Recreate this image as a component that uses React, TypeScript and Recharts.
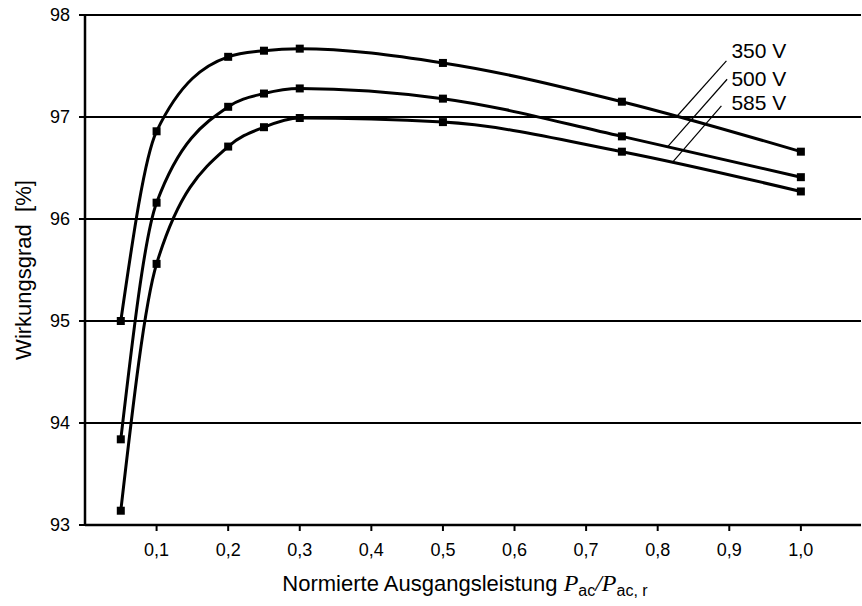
import {
  LineChart,
  Line,
  XAxis,
  YAxis,
  CartesianGrid,
  ReferenceLine,
  ReferenceDot,
} from "recharts";

// normierte Ausgangsleistung P_ac / P_ac,r
const loads = [0.05, 0.1, 0.2, 0.25, 0.3, 0.5, 0.75, 1.0];

// Wirkungsgrad in % je Eingangsspannung
const eta350 = [95.0, 96.86, 97.59, 97.65, 97.67, 97.53, 97.15, 96.66];
const eta500 = [93.84, 96.16, 97.1, 97.23, 97.28, 97.18, 96.81, 96.41];
const eta585 = [93.14, 95.56, 96.71, 96.9, 96.99, 96.95, 96.66, 96.27];

const seriesNames = ["350 V", "500 V", "585 V"];
const xTicks = [0.1, 0.2, 0.3, 0.4, 0.5, 0.6, 0.7, 0.8, 0.9, 1.0];
const yTicks = [93, 94, 95, 96, 97, 98];

// label anchors + leader lines (data coords)
const labelX = 0.903;
const labelY = [97.65, 97.38, 97.14];
const leaderFrom = [
  [0.896, 97.55],
  [0.897, 97.37],
  [0.889, 97.11],
];
const leaderTo = [
  [0.826, 97.0],
  [0.814, 96.71],
  [0.82, 96.55],
];

const data = loads.map((x, i) => ({
  x,
  v350: eta350[i],
  v500: eta500[i],
  v585: eta585[i],
}));

const FONT = "Arial, 'Liberation Sans', sans-serif";
const SERIF = "'Times New Roman', 'Liberation Serif', serif";

const Square = (props: any) => {
  const { cx, cy, index } = props;
  if (cx == null || cy == null) return null;
  return <rect key={index} x={cx - 4} y={cy - 4} width={8} height={8} fill="#000" />;
};

const XTitle = (props: any) => {
  const { x, y, width } = props.viewBox;
  return (
    <text x={x + width / 2 - 8} y={y + 66} textAnchor="middle" fontSize={22} fontFamily={FONT} fill="#000">
      Normierte Ausgangsleistung{" "}
      <tspan fontFamily={SERIF} fontStyle="italic" fontSize={24}>P</tspan>
      <tspan fontSize={16} dy={5}>ac</tspan>
      <tspan fontFamily={SERIF} fontStyle="italic" fontSize={24} dy={-5}>/P</tspan>
      <tspan fontSize={16} dy={5}>ac, r</tspan>
    </text>
  );
};

const YTitle = (props: any) => {
  const { x, y, height } = props.viewBox;
  const cx = x + 23;
  const cy = y + height / 2;
  return (
    <text
      x={cx}
      y={cy}
      transform={`rotate(-90 ${cx} ${cy})`}
      textAnchor="middle"
      dominantBaseline="central"
      fontSize={22}
      fontFamily={FONT}
      fill="#000"
    >
      Wirkungsgrad{"\u00a0 "}[%]
    </text>
  );
};

export default function App() {
  const keys = ["v350", "v500", "v585"];
  return (
    <div style={{ position: "absolute", left: 0, top: 0, width: 862, height: 606, background: "#fff" }}>
      <LineChart
        width={862}
        height={606}
        data={data}
        margin={{ top: 15, right: 1, bottom: 0, left: 0 }}
        style={{ fontFamily: FONT }}
      >
        <CartesianGrid vertical={false} stroke="#000" strokeWidth={2} />
        <XAxis
          type="number"
          dataKey="x"
          domain={[0, 1.084]}
          ticks={xTicks}
          tickFormatter={(v) => v.toFixed(1).replace(".", ",")}
          height={81}
          tickSize={6}
          tickMargin={12}
          axisLine={{ stroke: "#000", strokeWidth: 2.5 }}
          tickLine={{ stroke: "#000", strokeWidth: 2 }}
          tick={{ fill: "#000", fontSize: 18 }}
          label={<XTitle />}
        />
        <YAxis
          type="number"
          domain={[93, 98]}
          ticks={yTicks}
          width={85}
          tickSize={6}
          tickMargin={9}
          axisLine={{ stroke: "#000", strokeWidth: 2.5 }}
          tickLine={{ stroke: "#000", strokeWidth: 2 }}
          tick={{ fill: "#000", fontSize: 18 }}
          label={<YTitle />}
        />
        {keys.map((k, i) => (
          <Line
            key={k}
            type="monotone"
            dataKey={k}
            name={seriesNames[i]}
            stroke="#000"
            strokeWidth={3}
            dot={<Square />}
            activeDot={false}
            isAnimationActive={false}
          />
        ))}
        {seriesNames.map((name, i) => (
          <ReferenceLine
            key={"l" + name}
            segment={[
              { x: leaderFrom[i][0], y: leaderFrom[i][1] },
              { x: leaderTo[i][0], y: leaderTo[i][1] },
            ]}
            stroke="#000"
            strokeWidth={1.2}
            ifOverflow="visible"
          />
        ))}
        {seriesNames.map((name, i) => (
          <ReferenceDot
            key={"d" + name}
            x={labelX}
            y={labelY[i]}
            r={0}
            fill="none"
            stroke="none"
            ifOverflow="visible"
            label={{ value: name, position: "right", offset: 0, fontSize: 21, fill: "#000", fontFamily: FONT }}
          />
        ))}
      </LineChart>
    </div>
  );
}
